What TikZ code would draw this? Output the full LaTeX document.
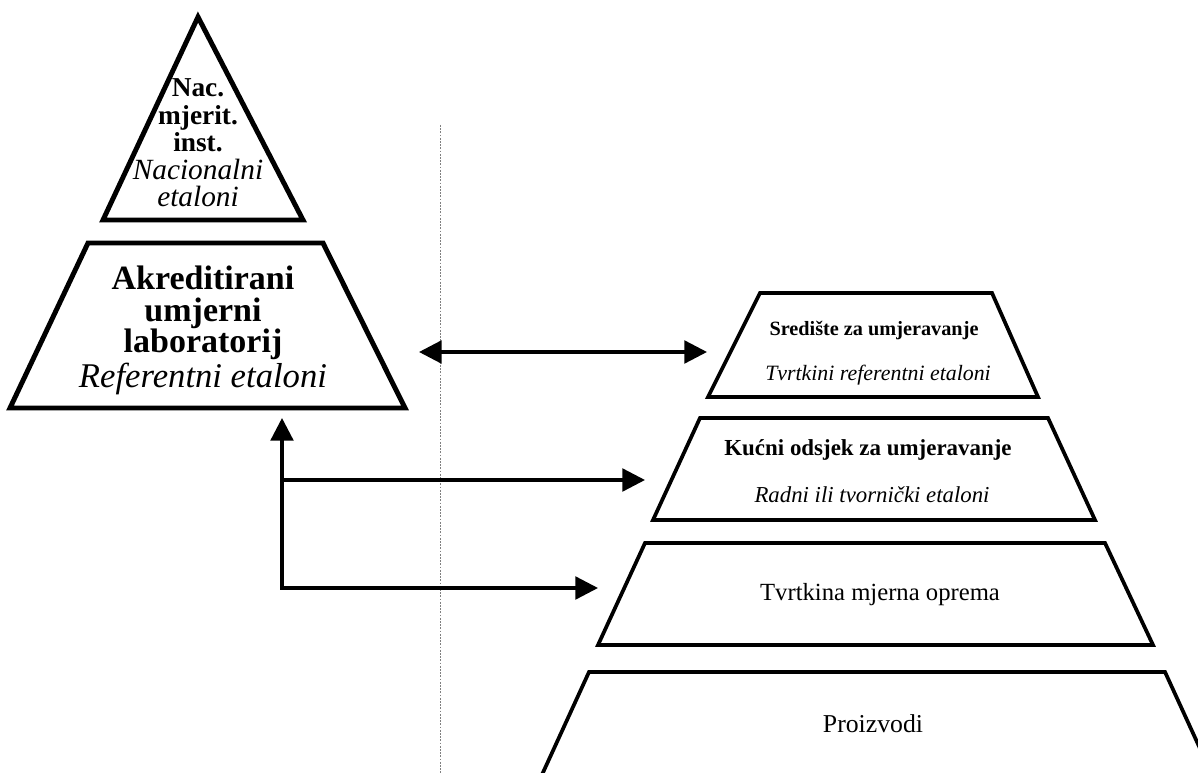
\documentclass[tikz,border=0pt]{standalone}
\usepackage{fontspec}
\setmainfont{Liberation Serif}
\usetikzlibrary{arrows.meta}
\begin{document}
\begin{tikzpicture}[x=0.75pt,y=-0.75pt,
  lshape/.style={draw=black,line width=3.7pt,line join=miter},
  rshape/.style={draw=black,line width=2.8pt,line join=miter},
  arr/.style={draw=black,line width=2.5pt,line join=miter},
  >={Triangle[length=17pt,width=17pt]},
  lbl/.style={anchor=base,inner sep=0pt,text=black},
  guide/.style={draw=gray,line width=0.7pt,dash pattern=on 1.3pt off 1.1pt}
]
\useasboundingbox[fill=white] (0,0) rectangle (1198,773);

% dotted separator
\coordinate (gtop) at (440,125);
\coordinate (gbot) at (440,773);
\draw[guide] (gtop) -- (gbot);

% left pyramid
\draw[lshape] (198,17) -- (303,220) -- (103,220) -- cycle;
\draw[lshape] (88,243) -- (323,243) -- (405,408) -- (10,408) -- cycle;

% right pyramid
\draw[rshape] (760,293) -- (992,293) -- (1038,397) -- (708,397) -- cycle;
\draw[rshape] (700,418) -- (1048,418) -- (1095,520) -- (653,520) -- cycle;
\draw[rshape] (645,543) -- (1105,543) -- (1153,645) -- (598,645) -- cycle;
\begin{scope}
  \clip (0,0) rectangle (1198,773);
  \draw[rshape] (535,790) -- (589,672) -- (1165,672) -- (1219,790);
\end{scope}

% texts: national institute
\node[lbl,font=\fontsize{20.5}{21}\selectfont\bfseries] (nac) at (198,97) {Nac.};
\node[lbl,font=\fontsize{20.5}{21}\selectfont\bfseries] (mjer) at (198,125) {mjerit.};
\node[lbl,font=\fontsize{20.5}{21}\selectfont\bfseries] (inst) at (198,152) {inst.};
\node[lbl,font=\fontsize{22}{23}\selectfont\itshape] (nacet) at (198,180) {Nacionalni};
\node[lbl,font=\fontsize{22}{23}\selectfont\itshape] (nacet2) at (198,207) {etaloni};

% accredited lab
\node[lbl,font=\fontsize{25.5}{26}\selectfont\bfseries] (ak1) at (203,290) {Akreditirani};
\node[lbl,font=\fontsize{25.5}{26}\selectfont\bfseries] (ak2) at (203,321) {umjerni};
\node[lbl,font=\fontsize{25.5}{26}\selectfont\bfseries] (ak3) at (203,352) {laboratorij};
\node[lbl,font=\fontsize{26}{27}\selectfont\itshape] (ak4) at (203,387) {Referentni etaloni};

% right texts
\node[lbl,font=\fontsize{15.2}{16}\selectfont\bfseries] (sr1) at (874,335) {Središte za umjeravanje};
\node[lbl,font=\fontsize{16.4}{17}\selectfont\itshape] (sr2) at (878,380) {Tvrtkini referentni etaloni};
\node[lbl,font=\fontsize{17.2}{18}\selectfont\bfseries] (ku1) at (868,455) {Kućni odsjek za umjeravanje};
\node[lbl,font=\fontsize{17.1}{18}\selectfont\itshape] (ku2) at (872,502) {Radni ili tvornički etaloni};
\node[lbl,font=\fontsize{18.5}{19}\selectfont] (tv) at (880,600) {Tvrtkina mjerna oprema};
\node[lbl,font=\fontsize{19.3}{20}\selectfont] (pr) at (873,732) {Proizvodi};

% connectors
\coordinate (labR) at (419,352);
\coordinate (srL) at (707,352);
\coordinate (labB) at (282,418);
\coordinate (j1) at (282,480);
\coordinate (j2) at (282,588);
\coordinate (kuL) at (645,480);
\coordinate (tvL) at (598,588);
\draw[arr,<->] (labR) -- (srL);
\draw[arr,<->] (labB) -- (j2) -- (tvL);
\draw[arr,->] (j1) -- (kuL);
\end{tikzpicture}
\end{document}
